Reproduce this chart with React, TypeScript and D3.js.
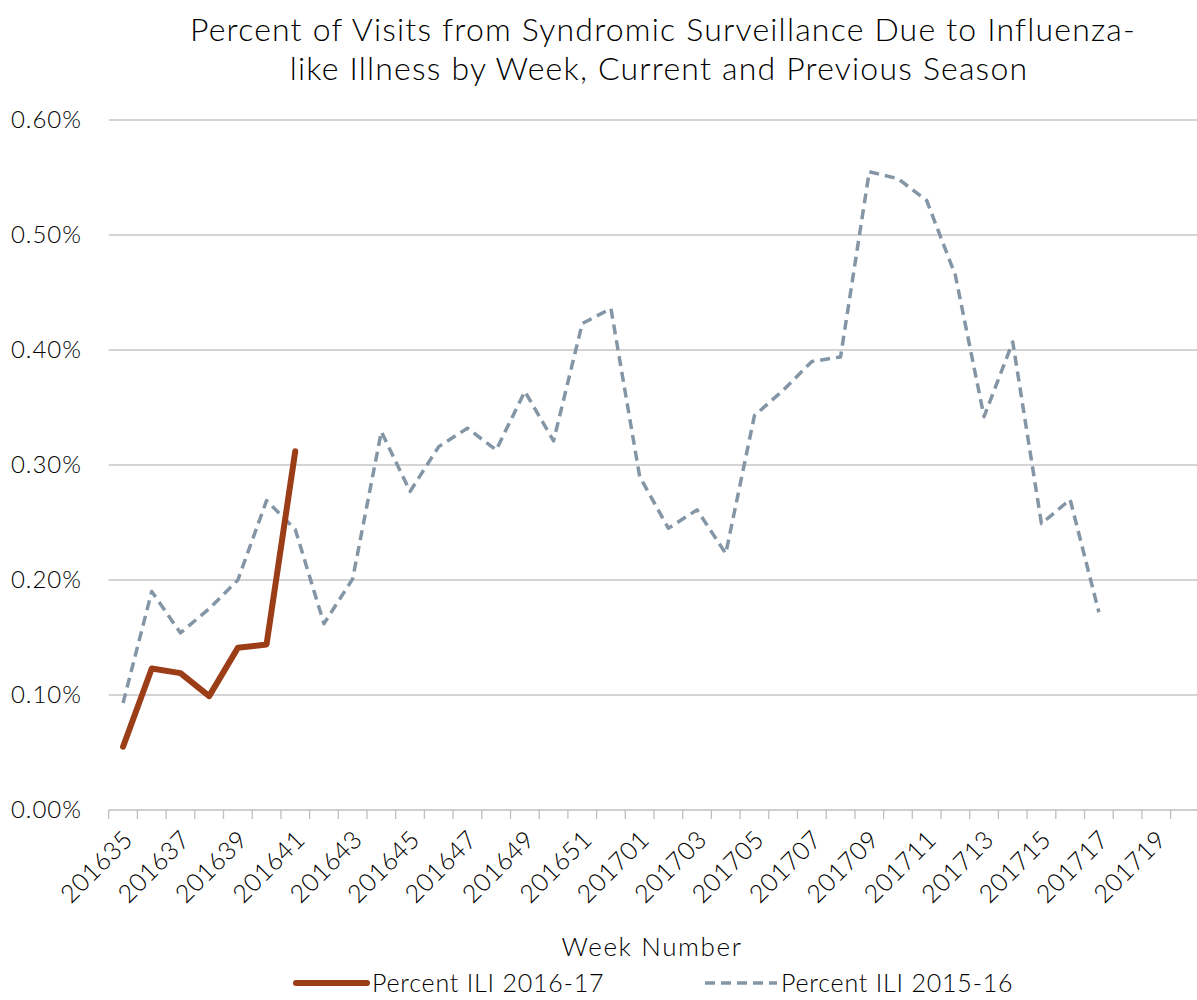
import React, { useEffect } from 'react';
import * as d3 from 'd3';

// week categories on the x axis (201635 .. 201720)
const weeks: string[] = [
  ...d3.range(35, 53).map(w => `2016${w}`),
  ...d3.range(1, 21).map(w => `2017${String(w).padStart(2, '0')}`),
];

// Percent ILI, current season (2016-17)
const current: number[] = [0.055, 0.123, 0.119, 0.099, 0.141, 0.144, 0.312];

// Percent ILI, previous season (2015-16)
const previous: number[] = [
  0.093, 0.19, 0.154, 0.175, 0.2, 0.269, 0.244, 0.162, 0.201, 0.329,
  0.277, 0.316, 0.332, 0.313, 0.364, 0.321, 0.423, 0.436, 0.29, 0.245,
  0.261, 0.223, 0.343, 0.365, 0.39, 0.394, 0.555, 0.549, 0.53, 0.465,
  0.342, 0.407, 0.249, 0.27, 0.172,
];

const yTicks: number[] = [0, 0.1, 0.2, 0.3, 0.4, 0.5, 0.6];

const FONT = 'Lato, "Open Sans", sans-serif';
const BROWN = '#9B3D17';
const GREY = '#8496A6';
const INK = '#000';

export default function App() {
  useEffect(() => {
    document.body.style.margin = '0';
  }, []);

  const width = 1197;
  const height = 1000;
  const left = 108.7;
  const right = 1199.3;
  const top = 120;
  const bottom = 810;

  const x = d3.scaleBand<string>().domain(weeks).range([left, right]).padding(0);
  const y = d3.scaleLinear().domain([0, 0.6]).range([bottom, top]);
  const cx = (i: number) => (x(weeks[i]) as number) + x.bandwidth() / 2;

  const line = d3.line<number>()
    .x((_, i) => cx(i))
    .y(d => y(d));

  const boundaries = d3.range(weeks.length + 1).map(k => left + k * x.bandwidth());

  return (
    <svg width={width} height={height} style={{ display: 'block', fontFamily: FONT, fontWeight: 300 }}>
      <rect width={width} height={height} fill="#fff" />

      {/* title */}
      <text x={663} y={41} textAnchor="middle" fontSize={32} letterSpacing={1.2} fill={INK}>
        Percent of Visits from Syndromic Surveillance Due to Influenza-
      </text>
      <text x={659} y={80} textAnchor="middle" fontSize={32} letterSpacing={1.2} fill={INK}>
        like Illness by Week, Current and Previous Season
      </text>

      {/* gridlines + y labels */}
      {yTicks.map(t => (
        <g key={t}>
          {t > 0 && (
            <line x1={left} x2={right} y1={y(t)} y2={y(t)} stroke="#c6c6c6" strokeWidth={1.3} />
          )}
          <text x={82} y={y(t)} dy="0.35em" textAnchor="end" fontSize={24} letterSpacing={1} fill={INK}>
            {d3.format('.2f')(t)}%
          </text>
        </g>
      ))}

      {/* x axis */}
      <line x1={left} x2={right} y1={bottom} y2={bottom} stroke="#bfbfbf" strokeWidth={1.5} />
      {boundaries.map((b, k) => (
        <line key={k} x1={b} x2={b} y1={bottom} y2={bottom + 9} stroke="#bfbfbf" strokeWidth={1.3} />
      ))}
      {weeks.map((w, i) => i % 2 === 0 && (
        <text
          key={w}
          transform={`translate(${cx(i) + 5},${bottom + 25}) rotate(-45)`}
          textAnchor="end"
          dy="0.35em"
          fontSize={25}
          letterSpacing={0.4}
          fill={INK}
        >
          {w}
        </text>
      ))}
      <text x={652} y={956} textAnchor="middle" fontSize={26} letterSpacing={1.6} fill={INK}>Week Number</text>

      {/* series */}
      <path d={line(previous) ?? ''} fill="none" stroke={GREY} strokeWidth={3.5} strokeDasharray="10,6" strokeLinejoin="round" />
      <path d={line(current) ?? ''} fill="none" stroke={BROWN} strokeWidth={6} strokeLinecap="round" strokeLinejoin="round" />

      {/* legend */}
      <line x1={296} x2={367} y1={983} y2={983} stroke={BROWN} strokeWidth={6} strokeLinecap="round" />
      <text x={372} y={983} dy="0.35em" fontSize={25} letterSpacing={0.8} fill={INK}>Percent ILI 2016-17</text>
      <line x1={705} x2={777} y1={983} y2={983} stroke={GREY} strokeWidth={3.5} strokeDasharray="10,6" />
      <text x={781} y={983} dy="0.35em" fontSize={25} letterSpacing={0.8} fill={INK}>Percent ILI 2015-16</text>
    </svg>
  );
}
